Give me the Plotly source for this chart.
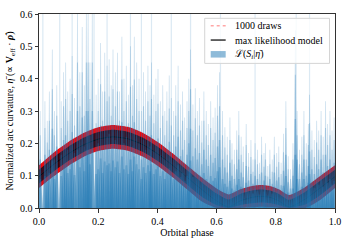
import numpy as np
import plotly.graph_objects as go

# ---- data ----
model_phase = [0.00, 0.05, 0.10, 0.15, 0.20, 0.25, 0.30, 0.35, 0.40, 0.45, 0.50, 0.55,
               0.60, 0.64, 0.68, 0.72, 0.75, 0.78, 0.81, 0.845, 0.90, 0.95, 1.00]
model_eta = [0.097, 0.135, 0.168, 0.195, 0.213, 0.220, 0.214, 0.196, 0.168, 0.133, 0.095, 0.057,
             0.022, 0.003, 0.022, 0.033, 0.036, 0.033, 0.022, 0.003, 0.028, 0.062, 0.097]
draws_hi = [0.132, 0.172, 0.205, 0.232, 0.250, 0.257, 0.251, 0.233, 0.205, 0.170, 0.132, 0.094,
            0.060, 0.042, 0.058, 0.068, 0.071, 0.068, 0.058, 0.040, 0.065, 0.099, 0.132]
draws_lo = [0.062, 0.098, 0.131, 0.158, 0.176, 0.183, 0.177, 0.159, 0.131, 0.096, 0.058, 0.020,
            0.000, 0.000, 0.000, 0.002, 0.004, 0.002, 0.000, 0.000, 0.000, 0.025, 0.062]

spike_phase = [0.004, 0.020, 0.028, 0.035, 0.045, 0.052, 0.060, 0.075, 0.083, 0.090, 0.097,
               0.105, 0.112, 0.120, 0.130, 0.138, 0.146, 0.153, 0.160, 0.166, 0.172, 0.180,
               0.193, 0.200, 0.208, 0.215, 0.222, 0.230, 0.237, 0.244, 0.250, 0.258, 0.265,
               0.272, 0.280, 0.287, 0.295, 0.302, 0.309, 0.316, 0.322, 0.330, 0.338, 0.346,
               0.353, 0.360, 0.368, 0.375, 0.380, 0.388, 0.395, 0.402, 0.410, 0.418, 0.425,
               0.432, 0.440, 0.447, 0.455, 0.462, 0.470, 0.478, 0.485, 0.492, 0.500, 0.506,
               0.512, 0.520, 0.528, 0.535, 0.542, 0.550, 0.557, 0.565, 0.572, 0.580, 0.588,
               0.595, 0.603, 0.610, 0.620, 0.628, 0.636, 0.645, 0.652, 0.660, 0.668, 0.675,
               0.683, 0.690, 0.700, 0.708, 0.716, 0.723, 0.730, 0.738, 0.745, 0.752, 0.760,
               0.765, 0.773, 0.780, 0.788, 0.795, 0.803, 0.810, 0.818, 0.826, 0.834, 0.842,
               0.850, 0.858, 0.866, 0.872, 0.880, 0.888, 0.895, 0.903, 0.910, 0.914, 0.922,
               0.930, 0.938, 0.945, 0.953, 0.960, 0.968, 0.975, 0.983, 0.990, 0.997]
spike_top = [0.30, 0.33, 0.27, 0.36, 0.49, 0.30, 0.38, 0.33, 0.42, 0.45, 0.36,
             0.40, 0.47, 0.34, 0.60, 0.42, 0.56, 0.38, 0.60, 0.60, 0.45, 0.60,
             0.35, 0.40, 0.51, 0.36, 0.48, 0.44, 0.46, 0.38, 0.49, 0.42, 0.48,
             0.36, 0.53, 0.40, 0.44, 0.35, 0.50, 0.38, 0.53, 0.45, 0.40, 0.30,
             0.42, 0.36, 0.44, 0.38, 0.45, 0.35, 0.40, 0.43, 0.33, 0.38, 0.30,
             0.36, 0.41, 0.34, 0.30, 0.38, 0.44, 0.32, 0.36, 0.28, 0.33, 0.40,
             0.49, 0.32, 0.37, 0.30, 0.34, 0.27, 0.36, 0.30, 0.26, 0.33, 0.28,
             0.31, 0.38, 0.42, 0.30, 0.25, 0.22, 0.28, 0.20, 0.18, 0.24, 0.30,
             0.22, 0.19, 0.26, 0.17, 0.21, 0.15, 0.20, 0.18, 0.14, 0.22, 0.17,
             0.20, 0.13, 0.18, 0.15, 0.22, 0.17, 0.19, 0.14, 0.23, 0.33, 0.16,
             0.12, 0.20, 0.55, 0.30, 0.18, 0.22, 0.30, 0.20, 0.26, 0.35, 0.24,
             0.21, 0.27, 0.24, 0.30, 0.22, 0.33, 0.26, 0.30, 0.24, 0.28]
wide_phase = [0.013, 0.070, 0.112, 0.186, 0.230, 0.309, 0.346, 0.380, 0.447, 0.512,
              0.613, 0.730, 0.869, 0.914]
wide_top = [0.60] * len(wide_phase)

x_ticks = [0.0, 0.2, 0.4, 0.6, 0.8, 1.0]
y_ticks = [0.0, 0.1, 0.2, 0.3, 0.4, 0.5, 0.6]

legend_labels = ["1000 draws", "max likelihood model", "ℒ(<i>S<sub>i</sub></i>|<i>η̄</i>)"]

FONT = "Liberation Serif"
BLUE = "31,119,180"

mc = np.array(model_eta)
mh = np.array(draws_hi)
ml = np.array(draws_lo)
inner_hi = mc + 0.6 * (mh - mc)
inner_lo = mc - 0.6 * (mc - ml)

fig = go.Figure()
line_shape = dict(shape="spline", smoothing=0.6, width=0)
fig.add_trace(go.Scatter(x=model_phase, y=draws_lo, mode="lines", line=line_shape,
                         showlegend=False, hoverinfo="skip"))
fig.add_trace(go.Scatter(x=model_phase, y=draws_hi, mode="lines", line=line_shape,
                         fill="tonexty", fillcolor="rgb(255,0,0)", showlegend=False,
                         hoverinfo="skip"))
fig.add_trace(go.Scatter(x=model_phase, y=inner_lo, mode="lines", line=line_shape,
                         showlegend=False, hoverinfo="skip"))
fig.add_trace(go.Scatter(x=model_phase, y=inner_hi, mode="lines", line=line_shape,
                         fill="tonexty", fillcolor="rgb(60,0,10)", showlegend=False,
                         hoverinfo="skip"))
fig.add_trace(go.Scatter(x=model_phase, y=model_eta, mode="lines",
                         line=dict(color="black", width=1, shape="spline", smoothing=0.6),
                         showlegend=False, hoverinfo="skip"))

# faint full-height likelihood columns
wx, wy = [], []
for p, t in zip(wide_phase, wide_top):
    wx += [p, p, None]
    wy += [0, t, None]
fig.add_trace(go.Scatter(x=wx, y=wy, mode="lines",
                         line=dict(color=f"rgba({BLUE},0.16)", width=1.2),
                         showlegend=False, hoverinfo="skip"))

# likelihood spikes: tapered columns, split into interleaved traces so overlaps build up
sp = np.array(spike_phase)
st = np.array(spike_top)
for frac, hw, a in [(1.0, 0.004, 0.22), (0.75, 0.005, 0.25), (0.5, 0.007, 0.28), (0.3, 0.009, 0.3)]:
    for k in range(3):
        xs, ys = [], []
        for p, t in zip(sp[k::3], st[k::3]):
            h = t * frac
            xs += [p - hw, p - 0.35 * hw, p + 0.35 * hw, p + hw, None]
            ys += [0, h, h, 0, None]
        fig.add_trace(go.Scatter(x=xs, y=ys, mode="lines", fill="toself",
                                 fillcolor=f"rgba({BLUE},{a})", line=dict(width=0),
                                 showlegend=False, hoverinfo="skip"))

# ---- hand-drawn legend (paper coordinates from pixel positions) ----
L, R, T, B = 39, 335.5, 14, 207.7
def px(x):
    return (x - L) / (R - L)
def py(y):
    return 1 - (y - T) / (B - T)

shapes = [
    dict(type="rect", xref="paper", yref="paper", x0=px(205), x1=px(330), y0=py(63.3), y1=py(18.3),
         fillcolor="rgba(255,255,255,0.8)", line=dict(color="#d4d4d4", width=1), layer="above"),
    dict(type="line", xref="paper", yref="paper", x0=px(211), x1=px(226), y0=py(25.7), y1=py(25.7),
         line=dict(color="rgba(255,0,0,0.35)", width=1.5, dash="dot"), layer="above"),
    dict(type="line", xref="paper", yref="paper", x0=px(211), x1=px(226), y0=py(40), y1=py(40),
         line=dict(color="black", width=1.2), layer="above"),
    dict(type="rect", xref="paper", yref="paper", x0=px(211), x1=px(226), y0=py(57.5), y1=py(51),
         fillcolor=f"rgba({BLUE},0.5)", line=dict(width=0), layer="above"),
]
annotations = [
    dict(xref="paper", yref="paper", x=px(233), y=py(yy), text=txt, showarrow=False,
         xanchor="left", yanchor="middle", font=dict(family=FONT, size=10, color="black"))
    for yy, txt in zip([25.7, 40, 54.3], legend_labels)
]

axis_common = dict(showline=True, linecolor="#333", linewidth=1, mirror=True,
                   ticks="outside", ticklen=3.5, tickwidth=1, tickcolor="#333",
                   showgrid=False, zeroline=False, automargin=False,
                   tickfont=dict(family=FONT, size=10, color="black"), tickformat=".1f")
fig.update_layout(
    width=352, height=242,
    margin=dict(l=L, r=352 - R, t=T, b=242 - B, autoexpand=False),
    paper_bgcolor="white", plot_bgcolor="white",
    font=dict(family=FONT, size=10, color="black"),
    xaxis=dict(range=[0, 1], tickvals=x_ticks, **axis_common,
               title=dict(text="Orbital phase", font=dict(family=FONT, size=10), standoff=0)),
    yaxis=dict(range=[0, 0.6], tickvals=y_ticks, **axis_common,
               title=dict(text="Normalized arc curvature, <i>η̄</i> (∝ <b>V</b><sub>eff</sub> · <b><i>ρ̂</i></b>)",
                          font=dict(family=FONT, size=10), standoff=4)),
    showlegend=False,
    shapes=shapes,
    annotations=annotations,
)
fig.write_html("out.html", config={"displayModeBar": False},
               post_script="document.body.style.margin='0px';")
